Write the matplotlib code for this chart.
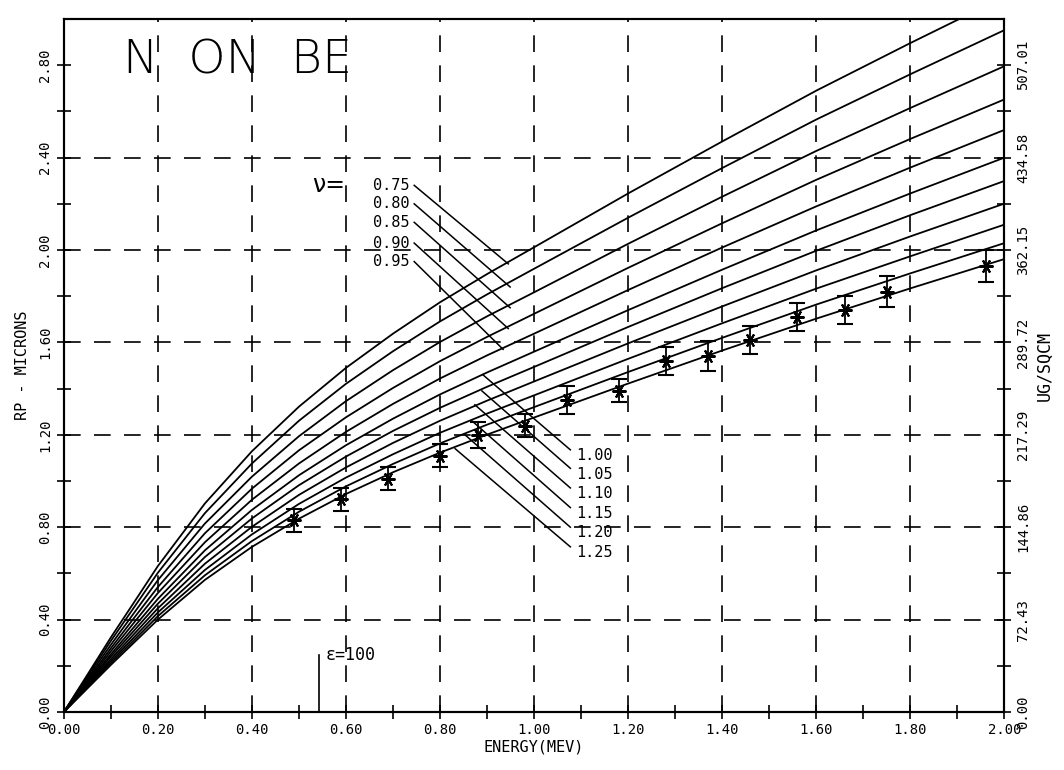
import numpy as np
import matplotlib
matplotlib.use("Agg")
from matplotlib import pyplot as plt

# energy grid (MeV) for the calculated range curves
energy = [0, 0.05, 0.1, 0.15, 0.2, 0.3, 0.4, 0.5, 0.6, 0.7, 0.8, 0.9, 1.0, 1.2, 1.4, 1.6, 1.8, 2.0]

# projected range (microns) for each nu
rp_075 = [0, 0.161, 0.323, 0.477, 0.632, 0.903, 1.129, 1.322, 1.490, 1.638, 1.774, 1.896, 2.012, 2.245, 2.470, 2.690, 2.896, 3.096]
rp_080 = [0, 0.154, 0.308, 0.455, 0.603, 0.861, 1.076, 1.261, 1.421, 1.562, 1.691, 1.808, 1.919, 2.140, 2.355, 2.565, 2.761, 2.952]
rp_085 = [0, 0.146, 0.291, 0.431, 0.571, 0.816, 1.019, 1.194, 1.346, 1.480, 1.602, 1.713, 1.817, 2.027, 2.231, 2.429, 2.615, 2.796]
rp_090 = [0, 0.138, 0.276, 0.409, 0.541, 0.774, 0.967, 1.133, 1.276, 1.403, 1.519, 1.624, 1.724, 1.923, 2.116, 2.304, 2.481, 2.652]
rp_095 = [0, 0.131, 0.263, 0.389, 0.515, 0.735, 0.919, 1.076, 1.213, 1.334, 1.444, 1.544, 1.638, 1.827, 2.011, 2.189, 2.357, 2.520]
rp_100 = [0, 0.125, 0.250, 0.370, 0.490, 0.700, 0.875, 1.025, 1.155, 1.270, 1.375, 1.470, 1.560, 1.740, 1.915, 2.085, 2.245, 2.400]
rp_105 = [0, 0.120, 0.240, 0.354, 0.469, 0.671, 0.838, 0.982, 1.106, 1.217, 1.317, 1.408, 1.494, 1.667, 1.835, 1.997, 2.151, 2.299]
rp_110 = [0, 0.115, 0.229, 0.339, 0.449, 0.642, 0.802, 0.940, 1.059, 1.165, 1.261, 1.348, 1.431, 1.596, 1.756, 1.912, 2.059, 2.201]
rp_115 = [0, 0.110, 0.220, 0.325, 0.431, 0.615, 0.769, 0.901, 1.015, 1.116, 1.209, 1.292, 1.371, 1.529, 1.683, 1.833, 1.973, 2.110]
rp_120 = [0, 0.106, 0.212, 0.313, 0.415, 0.592, 0.740, 0.867, 0.977, 1.074, 1.163, 1.244, 1.320, 1.472, 1.620, 1.764, 1.899, 2.030]
rp_125 = [0, 0.102, 0.204, 0.302, 0.400, 0.572, 0.715, 0.837, 0.944, 1.038, 1.123, 1.201, 1.275, 1.422, 1.565, 1.703, 1.834, 1.961]

nu_left = ["0.75", "0.80", "0.85", "0.90", "0.95"]
nu_right = ["1.00", "1.05", "1.10", "1.15", "1.20", "1.25"]

# measured points
e_meas = [0.49, 0.59, 0.69, 0.80, 0.88, 0.98, 1.07, 1.18, 1.28, 1.37, 1.46, 1.56, 1.66, 1.75, 1.96]
rp_meas = [0.83, 0.92, 1.01, 1.11, 1.20, 1.24, 1.35, 1.39, 1.52, 1.54, 1.61, 1.71, 1.74, 1.82, 1.93]
rp_err = [0.05, 0.05, 0.05, 0.05, 0.055, 0.05, 0.06, 0.05, 0.062, 0.065, 0.06, 0.06, 0.06, 0.067, 0.069]

# right axis tick labels
ug_labels = ["0.00", "72.43", "144.86", "217.29", "289.72", "362.15", "434.58", "507.01"]

mono = "DejaVu Sans Mono"

fig = plt.figure(figsize=(10.64, 7.70), dpi=100)
ax = fig.add_axes([0.060, 0.0753, 0.884, 0.900])

curves = [rp_075, rp_080, rp_085, rp_090, rp_095, rp_100,
          rp_105, rp_110, rp_115, rp_120, rp_125]
for rp in curves:
    ax.plot(energy, rp, color="black", lw=1.3)

ax.errorbar(e_meas, rp_meas, yerr=rp_err, fmt="none", ecolor="black",
            elinewidth=1.3, capsize=6, capthick=1.5)
ax.plot(e_meas, rp_meas, ls="none", marker=(6, 2, 90), ms=10,
        mec="black", mew=1.5)

ax.set_xlim(0, 2.0)
ax.set_ylim(0, 3.0)

# dashed grid
for gx in np.arange(0.2, 1.81, 0.2):
    ax.axvline(gx, color="black", lw=1.2, ls=(0, (10, 8)))
for gy in np.arange(0.4, 2.41, 0.4):
    ax.axhline(gy, color="black", lw=1.2, ls=(0, (10, 8)))

ax.set_xticks(np.arange(0, 2.01, 0.2))
ax.set_xticklabels(["%.2f" % v for v in np.arange(0, 2.01, 0.2)], family=mono, fontsize=10)
ax.set_xticks(np.arange(0, 2.01, 0.1), minor=True)
ax.set_yticks(np.arange(0, 2.81, 0.4))
ax.set_yticklabels(["%.2f" % v for v in np.arange(0, 2.81, 0.4)], family=mono,
                   fontsize=10, rotation=90, va="center")
ax.set_yticks(np.arange(0, 2.81, 0.2), minor=True)
ax.tick_params(which="both", direction="inout", length=10, width=1.2, color="black")
ax.tick_params(axis="x", pad=3)
for s in ax.spines.values():
    s.set_linewidth(1.5)

ax.set_xlabel("ENERGY(MEV)", family=mono, fontsize=11, labelpad=2)
ax.set_ylabel("RP - MICRONS", family=mono, fontsize=11, labelpad=6)

ax2 = ax.twinx()
ax2.set_ylim(0, 3.0)
ax2.set_yticks(np.arange(0, 2.81, 0.4))
ax2.set_yticklabels(ug_labels, family=mono, fontsize=10, rotation=90, va="center")
ax2.set_yticks(np.arange(0, 2.81, 0.2), minor=True)
ax2.tick_params(which="both", direction="inout", length=10, width=1.2)
ax2.set_ylabel("UG/SQCM", family=mono, fontsize=12, labelpad=4)
for s in ax2.spines.values():
    s.set_linewidth(1.5)

# title inside the plot
ax.text(0.125, 2.82, "N  ON  BE", fontsize=34, family="DejaVu Sans",
        fontweight="light", va="center", ha="left")

# nu labels with leader lines
ax.text(0.598, 2.28, "ν=", fontsize=17, ha="right", va="center")
left_ends = [(0.945, 1.94), (0.949, 1.84), (0.949, 1.75), (0.945, 1.66), (0.934, 1.57)]
left_y = [2.28, 2.20, 2.12, 2.03, 1.95]
for lab, ly, (xe, ye) in zip(nu_left, left_y, left_ends):
    ax.text(0.735, ly, lab, family=mono, fontsize=11, ha="right", va="center")
    ax.plot([0.745, xe], [ly, ye], color="black", lw=1.1)

right_ends = [(0.891, 1.46), (0.889, 1.39), (0.874, 1.33), (0.868, 1.26), (0.853, 1.20), (0.832, 1.14)]
right_y = [1.11, 1.03, 0.945, 0.86, 0.775, 0.69]
for lab, ry, (xe, ye) in zip(nu_right, right_y, right_ends):
    ax.text(1.09, ry, lab, family=mono, fontsize=11, ha="left", va="center")
    ax.plot([xe, 1.077], [ye, ry + 0.025], color="black", lw=1.1)

# epsilon marker
ax.plot([0.543, 0.543], [0, 0.245], color="black", lw=1.2)
ax.text(0.556, 0.245, "ε=100", fontsize=12, family=mono, ha="left", va="center")

fig.savefig("out.png", dpi=100)
